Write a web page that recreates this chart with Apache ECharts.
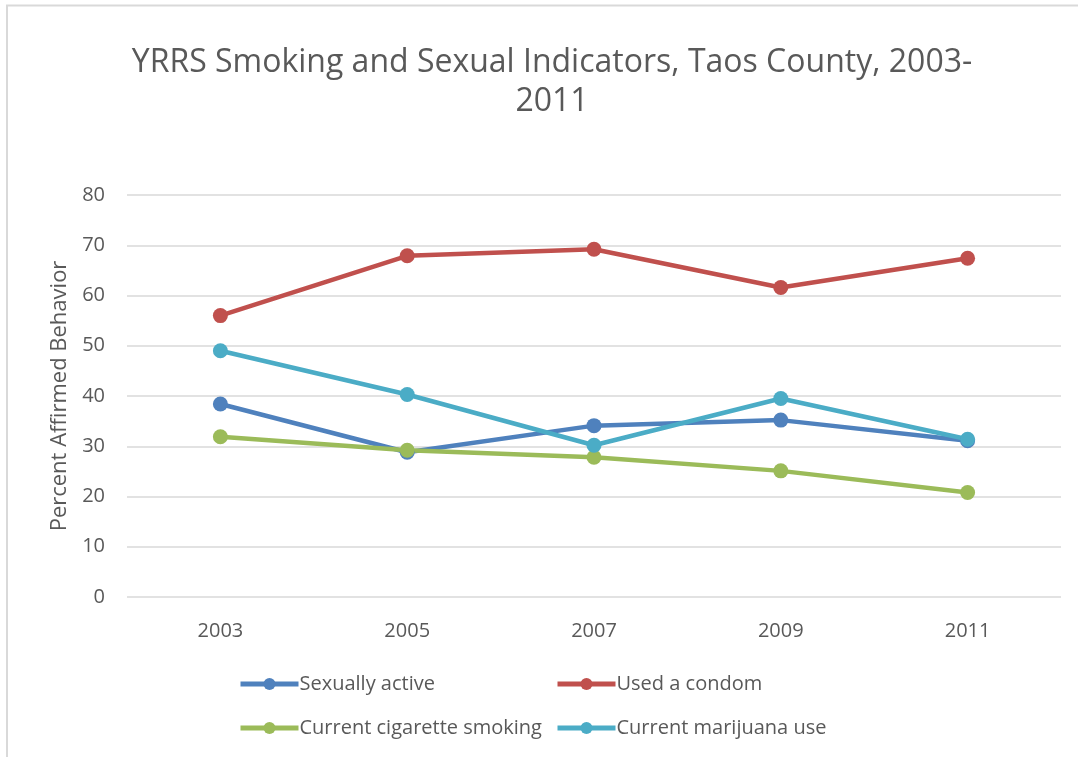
<!DOCTYPE html>
<html>
<head>
<meta charset="utf-8">
<script src="https://cdn.jsdelivr.net/npm/echarts@6/dist/echarts.min.js"></script>
<style>
  html, body { margin: 0; padding: 0; background: #ffffff; }
  #chart { width: 1078px; height: 757px; }
</style>
</head>
<body>
<div id="chart"></div>
<script>
// Survey years
const years = ['2003', '2005', '2007', '2009', '2011'];

// Percent of respondents affirming each behavior
const sexuallyActive = [38.4, 28.8, 34.1, 35.2, 31.1];
const usedCondom = [56.0, 67.9, 69.2, 61.6, 67.4];
const cigaretteSmoking = [31.9, 29.2, 27.8, 25.1, 20.8];
const marijuanaUse = [49.0, 40.3, 30.2, 39.5, 31.4];

// Y-axis tick range
const yMin = 0;
const yMax = 80;
const yStep = 10;

const FONT = '"Open Sans", "Noto Sans", sans-serif';
const TEXT = '#595959';

function lineSeries(name, data, color) {
  return {
    name: name,
    type: 'line',
    data: data,
    symbol: 'circle',
    symbolSize: 15,
    showSymbol: true,
    lineStyle: { width: 4.5, color: color },
    itemStyle: { color: color },
    emphasis: { disabled: true }
  };
}

const legendCommon = {
  orient: 'vertical',
  padding: 0,
  itemWidth: 58,
  itemHeight: 15,
  itemGap: 24,
  top: 674,
  lineStyle: { width: 5 },
  textStyle: { color: TEXT, fontFamily: FONT, fontSize: 20, padding: [0, 0, 0, -4] }
};

const chart = echarts.init(document.getElementById('chart'), null, { renderer: 'canvas' });
chart.setOption({
  animation: false,
  backgroundColor: '#ffffff',
  title: {
    text: 'YRRS Smoking and Sexual Indicators, Taos County, 2003-\n2011',
    left: 547,
    textAlign: 'center',
    top: 38,
    textStyle: {
      color: TEXT,
      fontFamily: FONT,
      fontWeight: 'normal',
      fontSize: 32,
      lineHeight: 39
    }
  },
  graphic: [
    { type: 'line', shape: { x1: 6, y1: 5.5, x2: 1078, y2: 5.5 }, style: { stroke: '#d9d9d9', lineWidth: 2 } },
    { type: 'line', shape: { x1: 7, y1: 5, x2: 7, y2: 757 }, style: { stroke: '#d9d9d9', lineWidth: 2 } }
  ],
  legend: [
    Object.assign({ left: 238, data: ['Sexually active', 'Current cigarette smoking'] }, legendCommon),
    Object.assign({ left: 555, data: ['Used a condom', 'Current marijuana use'] }, legendCommon)
  ],
  grid: { left: 127, right: 17, top: 195, bottom: 160, containLabel: false },
  xAxis: {
    type: 'category',
    data: years,
    boundaryGap: true,
    axisLine: { show: false },
    axisTick: { show: false },
    axisLabel: { color: TEXT, fontFamily: FONT, fontSize: 20, margin: 24 }
  },
  yAxis: {
    type: 'value',
    min: yMin,
    max: yMax,
    interval: yStep,
    name: 'Percent Affirmed Behavior',
    nameLocation: 'middle',
    nameGap: 56,
    nameTextStyle: { color: TEXT, fontFamily: FONT, fontSize: 22 },
    axisLine: { show: false },
    axisTick: { show: false },
    axisLabel: { color: TEXT, fontFamily: FONT, fontSize: 20, margin: 22 },
    splitLine: { lineStyle: { color: '#d9d9d9', width: 1.5 } }
  },
  series: [
    lineSeries('Sexually active', sexuallyActive, '#4f81bd'),
    lineSeries('Used a condom', usedCondom, '#c0504d'),
    lineSeries('Current cigarette smoking', cigaretteSmoking, '#9bbb59'),
    lineSeries('Current marijuana use', marijuanaUse, '#4bacc6')
  ]
});
</script>
</body>
</html>
